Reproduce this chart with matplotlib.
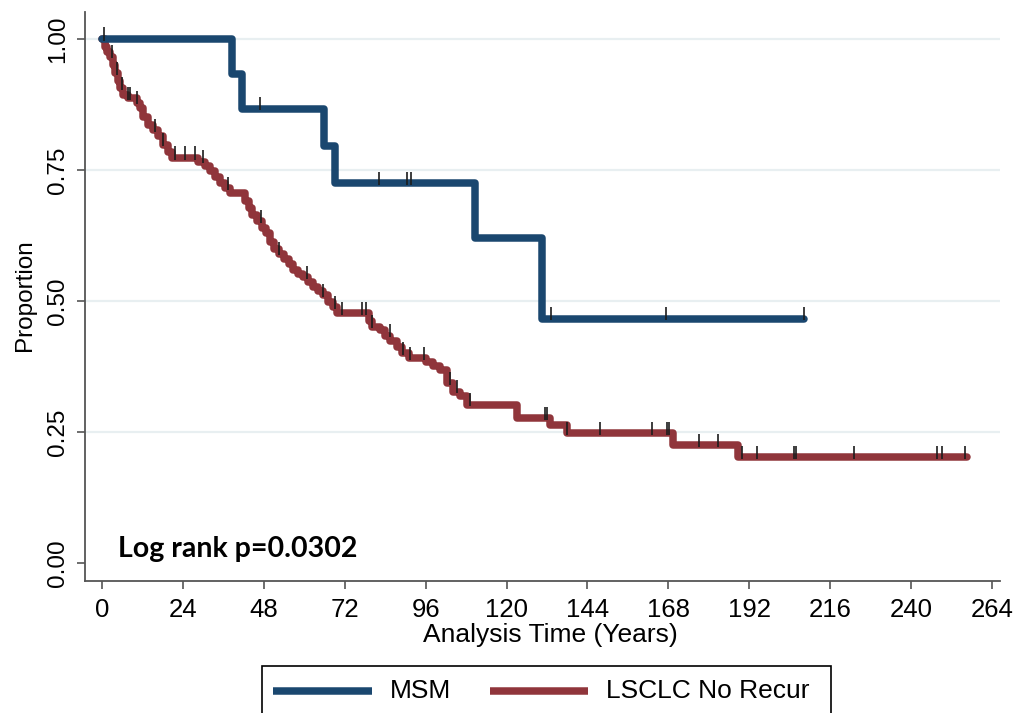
import numpy as np
import matplotlib
matplotlib.use("Agg")
import matplotlib.pyplot as plt
from matplotlib.patches import Rectangle
from matplotlib.lines import Line2D

# ---------------- data ----------------
msm_times = [0, 38.6, 41.4, 65.9, 69.1, 110.7, 130.4]
msm_surv = [1.0, 0.933, 0.867, 0.795, 0.725, 0.621, 0.466]
msm_end = 208.2
msm_cens = [47.0, 82.2, 90.4, 91.7, 133.1, 167.2, 208.2]

red_times = [0, 0.8, 1.6, 2.4, 3.2, 3.9, 4.6, 5.3, 6.2, 7.7, 10.4, 11.3, 12.2, 13.6,
             15.1, 16.6, 18.1, 19.6, 20.8, 28.5, 30.5, 32.0, 33.5, 35.0, 36.5, 38.0,
             42.5, 43.5, 44.5, 46.0, 47.5, 48.7, 49.8, 51.0, 52.5, 54.0, 55.5, 56.7,
             58.0, 59.6, 61.0, 62.6, 64.0, 65.6, 67.0, 68.5, 69.7, 79.2, 80.0, 82.5,
             84.0, 85.5, 87.5, 89.0, 91.0, 96.0, 98.2, 100.3, 102.3, 104.1, 106.2,
             108.3, 123.1, 132.9, 137.9, 169.4, 188.7]
red_surv = [1.0, 0.985, 0.975, 0.966, 0.95, 0.935, 0.92, 0.906, 0.893, 0.887, 0.878,
            0.868, 0.852, 0.835, 0.826, 0.814, 0.798, 0.785, 0.773, 0.766, 0.758,
            0.748, 0.737, 0.725, 0.715, 0.706, 0.690, 0.678, 0.664, 0.652, 0.640,
            0.630, 0.612, 0.600, 0.590, 0.580, 0.570, 0.559, 0.552, 0.545, 0.536,
            0.527, 0.519, 0.511, 0.499, 0.488, 0.477, 0.461, 0.451, 0.445, 0.434,
            0.424, 0.412, 0.400, 0.391, 0.384, 0.376, 0.368, 0.343, 0.327, 0.318,
            0.302, 0.276, 0.263, 0.2475, 0.225, 0.2017]
red_end = 256.6
red_cens = [0.6, 3.0, 4.5, 5.9, 7.7, 8.3, 10.4, 15.7, 18.1, 21.7, 24.6, 27.6, 30.0,
            37.4, 47.1, 52.5, 60.8, 65.6, 69.1, 71.1, 77.0, 78.2, 80.0, 85.4, 89.3,
            91.4, 95.5, 103.2, 105.3, 109.2, 131.4, 132.0, 137.9, 147.7, 163.1,
            167.5, 168.3, 177.1, 182.6, 189.8, 194.4, 205.3, 205.8, 223.1, 247.8,
            249.3, 256.0]

x_ticks = [0, 24, 48, 72, 96, 120, 144, 168, 192, 216, 240, 264]
y_ticks = [0.0, 0.25, 0.5, 0.75, 1.0]
y_ticklabels = ["0.00", "0.25", "0.50", "0.75", "1.00"]
series_names = ["MSM", "LSCLC No Recur"]
annotation = "Log rank p=0.0302"

BLUE = "#1a476f"
RED = "#90353b"
GRID = "#e8eff1"
AXC = "#555555"
FONT = ["Liberation Sans", "DejaVu Sans"]

plt.rcParams["font.family"] = FONT

fig = plt.figure(figsize=(10.24, 7.13), dpi=100)
W, H = 1024, 713
ax = fig.add_axes([85 / W, 1 - 581 / H, (1000 - 85) / W, (581 - 12) / H])

xl = ((85 - 102) / 3.3712, (1000 - 102) / 3.3712)
yl = ((563 - 581) / 524, (563 - 12) / 524)
ax.set_xlim(*xl)
ax.set_ylim(*yl)

for g in [0.25, 0.5, 0.75, 1.0]:
    ax.axhline(g, color=GRID, lw=1.6, zorder=0)


def step_xy(times, surv, end):
    t = list(times) + [end]
    s = list(surv) + [surv[-1]]
    return t, s


def surv_at(times, surv, t):
    idx = np.searchsorted(np.asarray(times), t, side="right") - 1
    return np.asarray(surv)[idx]


tr, sr = step_xy(red_times, red_surv, red_end)
ax.step(tr, sr, where="post", color=RED, lw=5.4, zorder=3,
        solid_joinstyle="round", solid_capstyle="round")
tb, sb = step_xy(msm_times, msm_surv, msm_end)
ax.step(tb, sb, where="post", color=BLUE, lw=5.4, zorder=3,
        solid_joinstyle="round", solid_capstyle="round")

for times, surv, cens in [(red_times, red_surv, red_cens), (msm_times, msm_surv, msm_cens)]:
    c = np.asarray(cens)
    s = surv_at(times, surv, c)
    ax.vlines(c, s - 0.003, s + 0.022, colors="#1c1c1c", lw=1.2, zorder=5)

for sp in ["top", "right"]:
    ax.spines[sp].set_visible(False)
for sp in ["left", "bottom"]:
    ax.spines[sp].set_color(AXC)
    ax.spines[sp].set_linewidth(1.3)

ax.set_xticks(x_ticks)
ax.set_xticklabels([str(v) for v in x_ticks])
ax.set_yticks(y_ticks)
ax.set_yticklabels(y_ticklabels, rotation=90, va="center")
ax.tick_params(axis="x", direction="out", length=6, width=1.2, color=AXC,
               labelsize=18.5, pad=6)
ax.tick_params(axis="y", direction="out", length=5.5, width=1.2, color=AXC,
               labelsize=17.5, pad=6)

fig.text(550 / W, 1 - 635 / H, "Analysis Time (Years)", ha="center", va="center",
         fontsize=19)
fig.text(25 / W, 1 - 295 / H, "Proportion", ha="center", va="center",
         rotation=90, fontsize=17.5)

ax.text(4.7, 0.011, annotation, fontsize=20.5, fontweight="bold",
        family=["Lato", "DejaVu Sans"], ha="left", va="baseline", zorder=6)

# legend box (clipped at figure bottom)
fig.patches.append(Rectangle((262 / W, -0.05), (831 - 262) / W, 0.05 + (713 - 666) / H,
                             transform=fig.transFigure, fill=False, ec="black", lw=1.2))
ly = 1 - 691 / H
fig.lines.append(Line2D([273 / W, 372 / W], [ly, ly], transform=fig.transFigure,
                        color=BLUE, lw=5.4, solid_capstyle="butt"))
fig.lines.append(Line2D([490 / W, 588 / W], [ly, ly], transform=fig.transFigure,
                        color=RED, lw=5.4, solid_capstyle="butt"))
fig.text(390 / W, ly, series_names[0], ha="left", va="center", fontsize=19)
fig.text(606 / W, ly, series_names[1], ha="left", va="center", fontsize=19)

fig.savefig("out.png", dpi=100)
